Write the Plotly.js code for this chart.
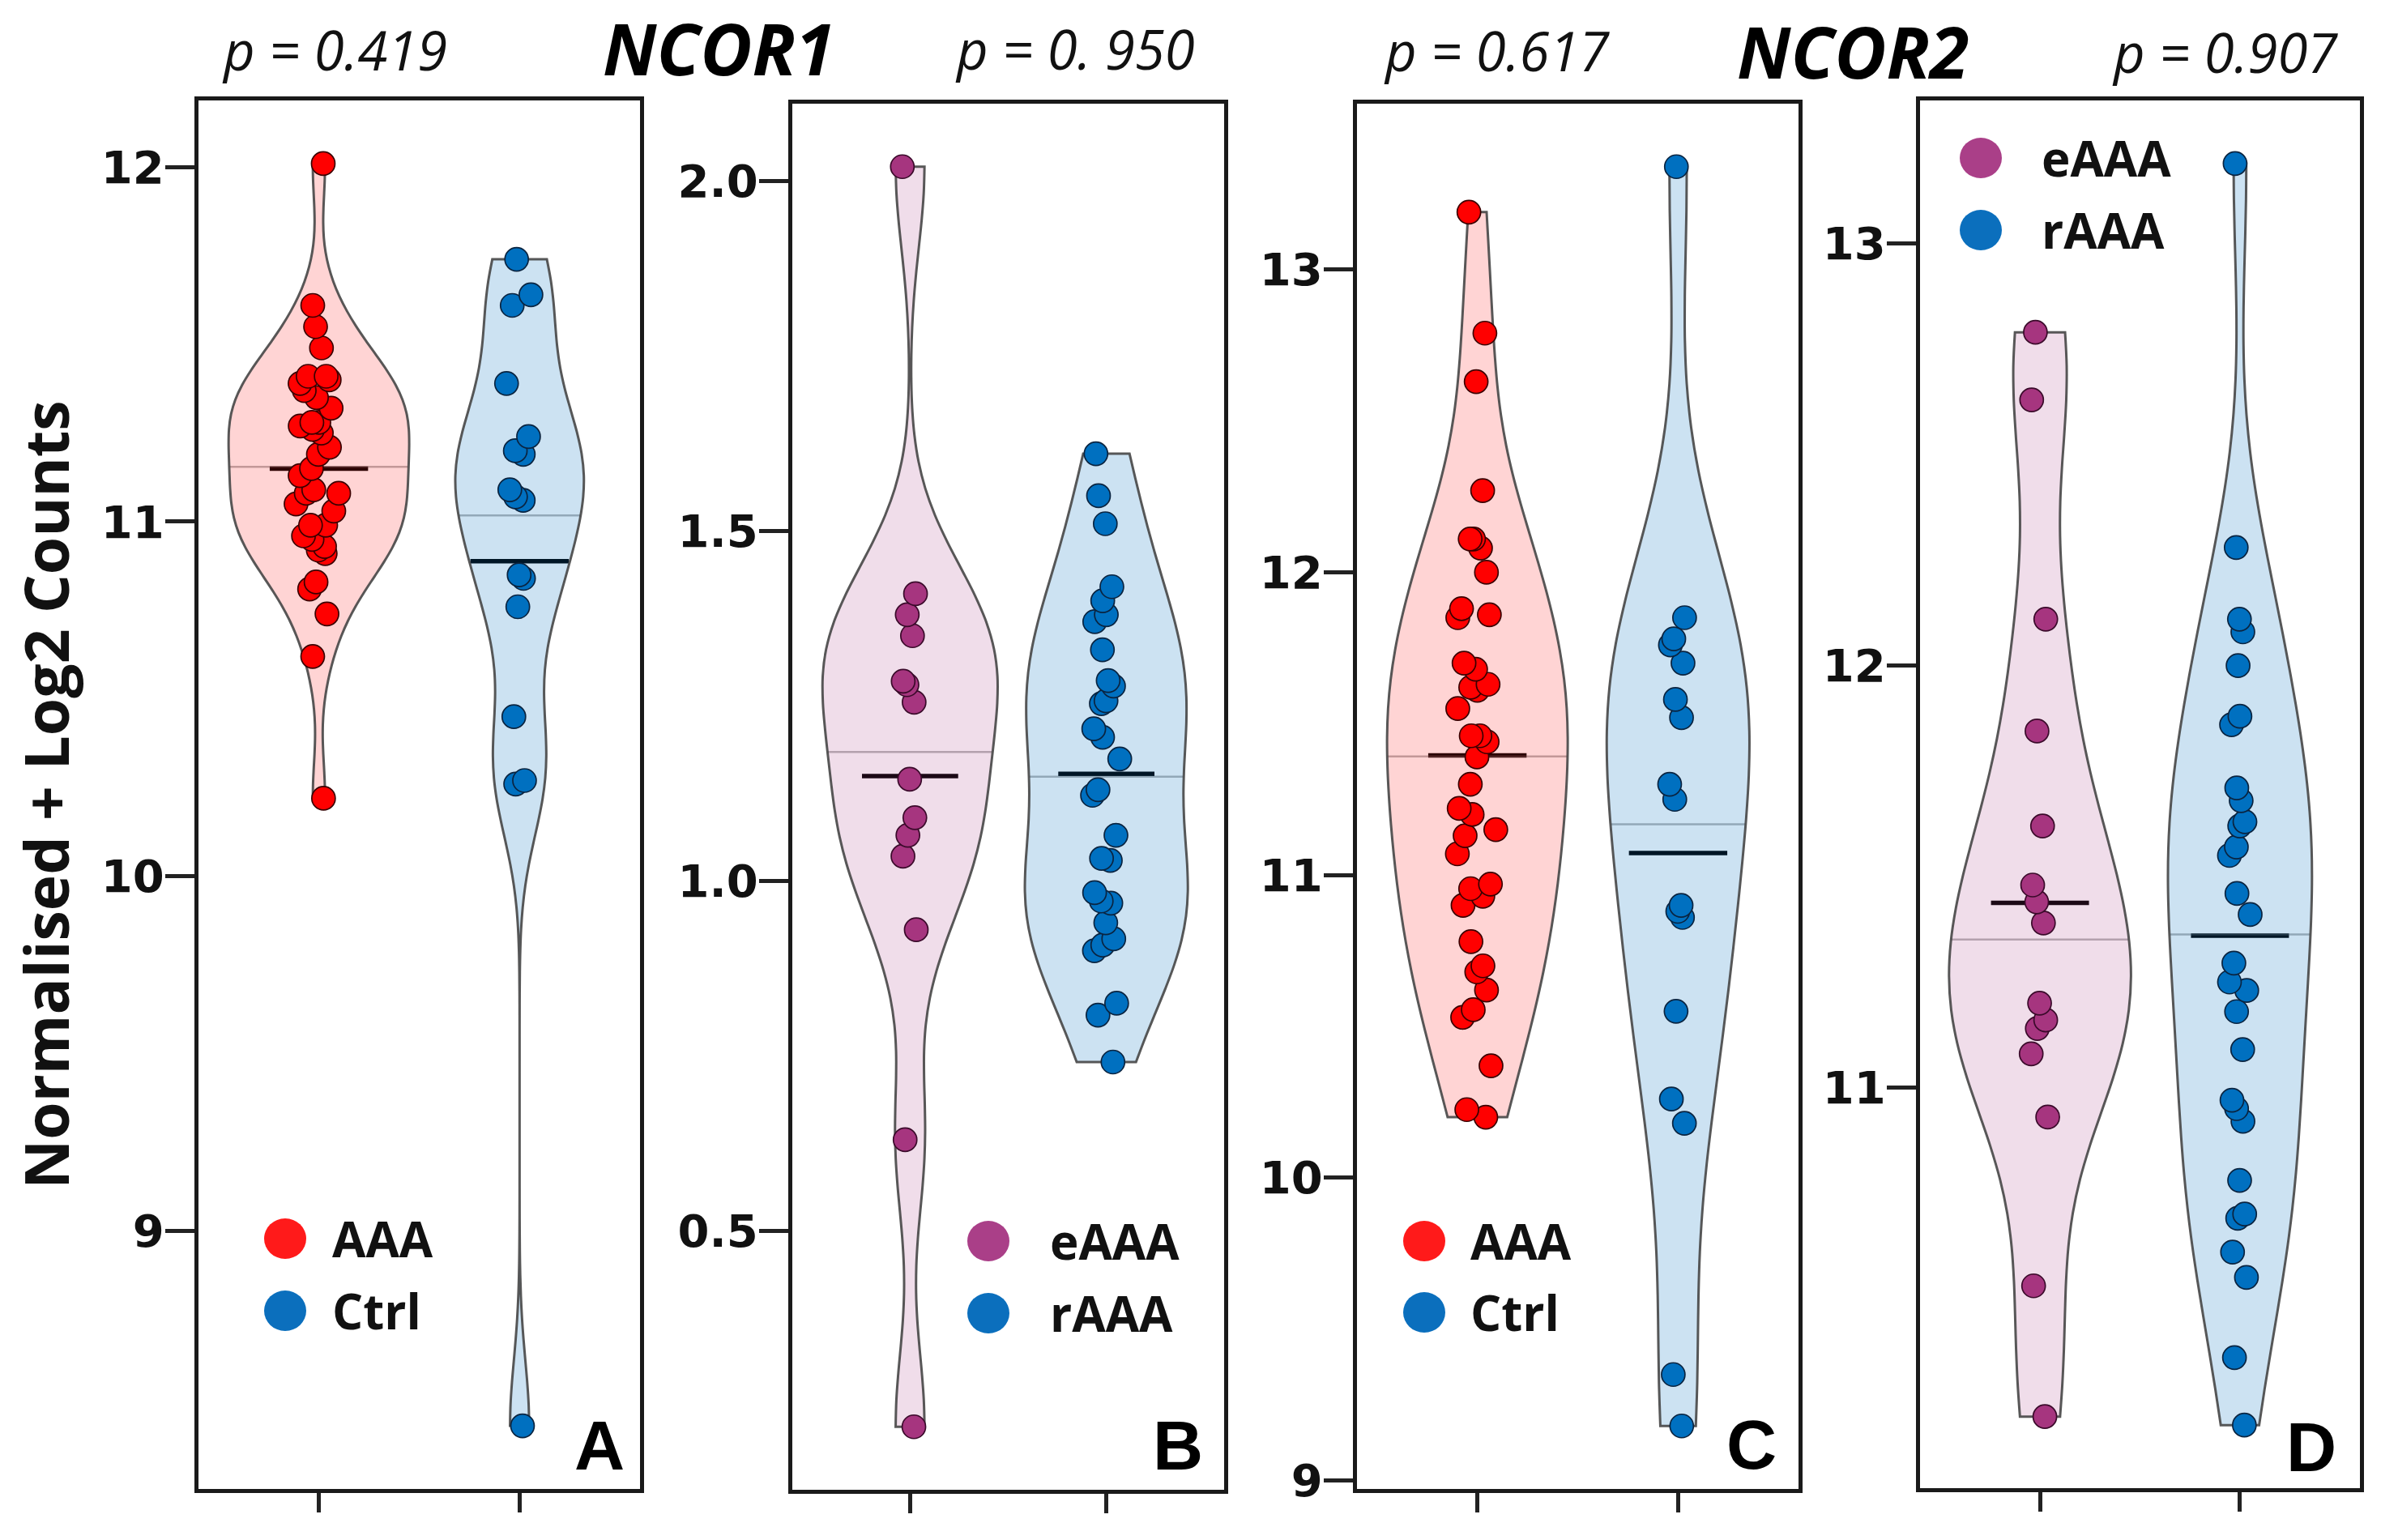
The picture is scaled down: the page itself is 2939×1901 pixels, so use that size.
<!DOCTYPE html>
<html>
<head>
<meta charset="utf-8">
<script src="https://cdn.plot.ly/plotly-3.0.1.min.js"></script>
<style>html,body{margin:0;padding:0;background:#fff}#chart{width:2939px;height:1901px}</style>
</head>
<body>
<div id="chart"></div>
<script>
// ---------------- DATA ----------------
const genes = ['NCOR1', 'NCOR2'];
const panelLetters = ['A', 'B', 'C', 'D'];
const pValues = ['p = 0.419', 'p = 0. 950', 'p = 0.617', 'p = 0.907'];
const groupsAC = ['AAA', 'Ctrl'];
const groupsBD = ['eAAA', 'rAAA'];
const yTitle = 'Normalised + Log2 Counts';

// Panel A: NCOR1, AAA vs Ctrl
const A_AAA = [12.01, 11.61, 11.55, 11.49, 11.41, 11.41, 11.40, 11.39, 11.37, 11.35, 11.32, 11.28, 11.28,
  11.27, 11.26, 11.25, 11.21, 11.19, 11.15, 11.13, 11.09, 11.08, 11.08, 11.05, 11.03, 10.99, 10.99, 10.96,
  10.95, 10.93, 10.92, 10.91, 10.83, 10.81, 10.74, 10.62, 10.22];
const A_Ctrl = [11.74, 11.64, 11.61, 11.39, 11.24, 11.20, 11.19, 11.09, 11.07, 11.06, 10.85, 10.84, 10.76,
  10.45, 10.27, 10.26, 8.45];

// Panel B: NCOR1, eAAA vs rAAA
const B_eAAA = [2.02, 1.41, 1.38, 1.35, 1.285, 1.28, 1.255, 1.145, 1.09, 1.065, 1.035, 0.93, 0.63, 0.22];
const B_rAAA = [1.61, 1.55, 1.51, 1.42, 1.40, 1.38, 1.37, 1.33, 1.286, 1.278, 1.257, 1.253, 1.217, 1.205,
  1.174, 1.130, 1.122, 1.065, 1.032, 1.029, 0.983, 0.971, 0.968, 0.940, 0.917, 0.908, 0.900, 0.825, 0.808, 0.741];

// Panel C: NCOR2, AAA vs Ctrl
const C_AAA = [13.19, 12.79, 12.63, 12.27, 12.11, 12.11, 12.08, 12.00, 11.88, 11.86, 11.85, 11.70, 11.68,
  11.63, 11.62, 11.61, 11.55, 11.46, 11.46, 11.44, 11.39, 11.30, 11.22, 11.20, 11.15, 11.13, 11.07, 10.97,
  10.955, 10.93, 10.90, 10.78, 10.70, 10.68, 10.62, 10.555, 10.53, 10.37, 10.225, 10.20];
const C_Ctrl = [13.34, 11.85, 11.78, 11.76, 11.70, 11.58, 11.52, 11.30, 11.25, 10.90, 10.88, 10.86, 10.55,
  10.26, 10.18, 9.35, 9.18];

// Panel D: NCOR2, eAAA vs rAAA
const D_eAAA = [12.79, 12.63, 12.11, 11.845, 11.62, 11.48, 11.44, 11.39, 11.20, 11.16, 11.14, 11.08, 10.93,
  10.53, 10.22];
const D_rAAA = [13.19, 12.28, 12.11, 12.08, 12.00, 11.88, 11.86, 11.71, 11.68, 11.63, 11.62, 11.57, 11.55,
  11.46, 11.41, 11.295, 11.25, 11.23, 11.18, 11.09, 10.97, 10.95, 10.92, 10.78, 10.70, 10.69, 10.61, 10.55,
  10.36, 10.20];

// ---------------- STYLE ----------------
const W = 2939, H = 1901;
const BOX = [[245, 124, 790, 1838], [978, 128, 1511, 1839], [1675, 128, 2220, 1838], [2370, 124, 2913, 1837]];
const VIOLIN_WIDTH = [[0.90, 0.64], [0.89, 0.83], [0.90, 0.71], [0.91, 0.72]]; // full widths, category units
const JITTER = [[0.30, 0.22], [0.16, 0.20], [0.26, 0.18], [0.13, 0.17]];
const COLORS = {
  AAA:  {marker: '#ff0000', line: '#3a0000', fill: 'rgba(255,0,0,0.17)', legend: '#ff1a1a'},
  Ctrl: {marker: '#0070c0', line: '#0a2440', fill: 'rgba(0,112,192,0.20)', legend: '#0b6fbd'},
  eAAA: {marker: '#a6357f', line: '#3a0a2a', fill: 'rgba(166,55,130,0.17)', legend: '#aa3f88'},
  rAAA: {marker: '#0070c0', line: '#0a2440', fill: 'rgba(0,112,192,0.20)', legend: '#0b6fbd'}
};
const LEGEND_POS = [ // dot centre x, first dot y, second dot y, text x (px)
  [352, 1529, 1618, 408], [1220, 1532, 1621, 1294], [1758, 1532, 1620, 1813], [2445, 195, 284, 2518]];
const TITLE_POS = { p: [[413, 61], [1327, 60], [1847, 62], [2746, 64]], gene: [[888, 59], [2287, 63]] };
const LETTER_POS = [[773, 1784], [1487, 1784], [2195, 1783], [2886, 1786]];
const MEANHALF = 0.245;  // half length of mean bar

const px = x => x / W, py = y => 1 - y / H;

// ---------------- HELPERS ----------------
const mean = a => a.reduce((s, v) => s + v, 0) / a.length;
function sd(a) { const m = mean(a); return Math.sqrt(a.reduce((s, v) => s + (v - m) * (v - m), 0) / (a.length - 1)); }
function quant(sorted, p) { const h = (sorted.length - 1) * p, lo = Math.floor(h), hi = Math.ceil(h); return sorted[lo] + (h - lo) * (sorted[hi] - sorted[lo]); }
function nrd0(a) {
  const s = [...a].sort((x, y) => x - y);
  const iqr = quant(s, 0.75) - quant(s, 0.25);
  const lo = Math.min(sd(a), iqr / 1.34);
  return 0.9 * lo * Math.pow(a.length, -0.2);
}
function kde(a, bw) {
  const f = 1 / (a.length * bw * Math.sqrt(2 * Math.PI));
  return x => { let s = 0; for (const v of a) { const u = (x - v) / bw; s += Math.exp(-0.5 * u * u); } return f * s; };
}
function maxKDE(a, bw) { // same sampling as plotly violin calc
  const lo = Math.min(...a), hi = Math.max(...a), k = kde(a, bw);
  const n = Math.ceil((hi - lo) / (bw / 3)), step = (hi - lo) / n;
  let m = 0; for (let t = lo; t < hi + step / 2; t += step) m = Math.max(m, k(t));
  return m;
}
function densityMedian(a, bw) { // ggplot2 draw_quantiles style (trimmed density, 512 pts)
  const lo = Math.min(...a), hi = Math.max(...a), k = kde(a, bw), n = 512;
  const ys = [], ds = [];
  for (let i = 0; i < n; i++) { const y = lo + (hi - lo) * i / (n - 1); ys.push(y); ds.push(k(y)); }
  const tot = ds.reduce((s, v) => s + v, 0);
  let c = 0, prevC = 0;
  for (let i = 0; i < n; i++) {
    prevC = c; c += ds[i] / tot;
    if (c >= 0.5) { if (i === 0) return ys[0]; const f = (0.5 - prevC) / (c - prevC); return ys[i - 1] + f * (ys[i] - ys[i - 1]); }
  }
  return ys[n - 1];
}

// ---------------- BUILD ----------------
const panels = [
  {groups: groupsAC, values: [A_AAA, A_Ctrl], dtick: 1, fmt: 'd'},
  {groups: groupsBD, values: [B_eAAA, B_rAAA], dtick: 0.5, fmt: '.1f'},
  {groups: groupsAC, values: [C_AAA, C_Ctrl], dtick: 1, fmt: 'd'},
  {groups: groupsBD, values: [D_eAAA, D_rAAA], dtick: 1, fmt: 'd'}
];

const data = [], shapes = [], annotations = [];
const layout = {
  width: W, height: H, margin: {l: 0, r: 0, t: 0, b: 0},
  paper_bgcolor: '#ffffff', plot_bgcolor: '#ffffff', showlegend: false,
  violinmode: 'overlay', violingap: 0.1, violingroupgap: 0,
  font: {family: 'Open Sans, DejaVu Sans, sans-serif', color: '#111111'},
  hovermode: false
};

panels.forEach((p, k) => {
  const sfx = k === 0 ? '' : String(k + 1);
  const xa = 'x' + sfx, ya = 'y' + sfx;
  const [L, T, R, B] = BOX[k];
  const all = p.values.flat();
  const mn = Math.min(...all), mx = Math.max(...all), ex = 0.05 * (mx - mn);

  p.groups.forEach((g, i) => {
    const vals = p.values[i], c = COLORS[g];
    const bw = nrd0(vals), wid = VIOLIN_WIDTH[k][i];
    // every violin sits on its own (invisible) overlaying category axis so it is scaled on its own
    const ovNum = 5 + 2 * k + i;
    layout['xaxis' + ovNum] = {overlaying: xa, anchor: ya, type: 'category', categoryarray: p.groups,
      range: [-0.6, 1.6], visible: false, showgrid: false, zeroline: false, fixedrange: true};
    data.push({
      type: 'violin', name: g, x: vals.map(() => g), y: vals, xaxis: 'x' + ovNum, yaxis: ya,
      width: wid, scalegroup: 'p' + k + 'g' + i, scalemode: 'width', spanmode: 'hard', bandwidth: bw,
      fillcolor: c.fill, line: {color: 'rgba(70,70,70,0.9)', width: 3},
      points: 'all', pointpos: 0, jitter: JITTER[k][i],
      marker: {size: 29, color: c.marker, line: {color: c.line, width: 1.7}},
      box: {visible: false}, meanline: {visible: false}, hoverinfo: 'skip'
    });
    // mean bar (black) and density median line (grey), drawn under the translucent fill
    const m = mean(vals);
    shapes.push({type: 'line', xref: xa, yref: ya, layer: 'below', x0: i - MEANHALF, x1: i + MEANHALF, y0: m, y1: m,
      line: {color: '#000000', width: 5.5}});
    const med = densityMedian(vals, bw);
    const hw = kde(vals, bw)(med) / maxKDE(vals, bw) * wid / 2;
    shapes.push({type: 'line', xref: xa, yref: ya, layer: 'below', x0: i - hw, x1: i + hw, y0: med, y1: med,
      line: {color: 'rgba(95,95,95,0.45)', width: 2.5}});
  });

  layout['xaxis' + sfx] = {
    domain: [px(L), px(R)], anchor: ya, type: 'category', categoryarray: p.groups, range: [-0.6, 1.6],
    showgrid: false, zeroline: false, showline: true, mirror: true, linecolor: '#1a1a1a', linewidth: 5,
    ticks: 'outside', ticklen: 24, tickwidth: 5, tickcolor: '#222222', showticklabels: false, fixedrange: true
  };
  layout['yaxis' + sfx] = {
    domain: [py(B), py(T)], anchor: xa, range: [mn - ex, mx + ex],
    dtick: p.dtick, tick0: 0, tickformat: p.fmt,
    showgrid: false, zeroline: false, showline: true, mirror: true, linecolor: '#1a1a1a', linewidth: 5,
    ticks: 'outside', ticklen: 36, tickwidth: 5, tickcolor: '#222222', ticklabelstandoff: -10,
    tickfont: {family: 'DejaVu Sans, sans-serif', size: 56, weight: 700, color: '#111111'},
    fixedrange: true
  };
  if (k === 0) {
    layout.yaxis.title = {text: yTitle, standoff: 16,
      font: {family: 'Open Sans, sans-serif', size: 75, weight: 700, color: '#111111'}};
  }

  // panel letter
  annotations.push({xref: 'paper', yref: 'paper', x: px(LETTER_POS[k][0]), y: py(LETTER_POS[k][1]),
    xanchor: 'right', yanchor: 'middle', showarrow: false, text: panelLetters[k],
    font: {family: 'Liberation Sans, Arial, sans-serif', size: 86, weight: 700, color: '#000000'}});
  // p value
  annotations.push({xref: 'paper', yref: 'paper', x: px(TITLE_POS.p[k][0]), y: py(TITLE_POS.p[k][1]),
    xanchor: 'center', yanchor: 'middle', showarrow: false, text: pValues[k],
    font: {family: 'Open Sans, sans-serif', size: 67, style: 'italic', color: '#111111'}});

  // legend (dots + labels)
  const lp = LEGEND_POS[k];
  p.groups.forEach((g, i) => {
    const cy = i === 0 ? lp[1] : lp[2];
    shapes.push({type: 'circle', xref: 'paper', yref: 'paper', layer: 'above',
      x0: px(lp[0] - 26), x1: px(lp[0] + 26), y0: py(cy + 25), y1: py(cy - 25),
      fillcolor: COLORS[g].legend, line: {width: 0}});
    annotations.push({xref: 'paper', yref: 'paper', x: px(lp[3]), y: py(cy), xanchor: 'left', yanchor: 'middle',
      showarrow: false, text: g, font: {family: 'Open Sans, sans-serif', size: 60, weight: 700, color: '#111111'}});
  });
});

genes.forEach((g, i) => {
  annotations.push({xref: 'paper', yref: 'paper', x: px(TITLE_POS.gene[i][0]), y: py(TITLE_POS.gene[i][1]),
    xanchor: 'center', yanchor: 'middle', showarrow: false, text: '<b><i>' + g + '</i></b>',
    font: {family: 'Open Sans, sans-serif', size: 88, weight: 700, style: 'italic', color: '#000000'}});
});

layout.shapes = shapes;
layout.annotations = annotations;

Plotly.newPlot('chart', data, layout, {staticPlot: true, displayModeBar: false});
</script>
</body>
</html>
